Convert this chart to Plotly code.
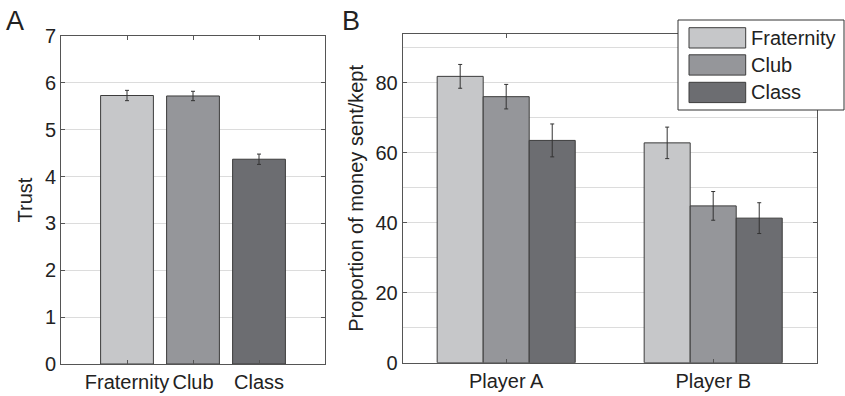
import plotly.graph_objects as go

# ---- data ----
groups = ["Fraternity", "Club", "Class"]
colors = ["#c6c7c9", "#95969a", "#6c6d71"]

trust_mean = [5.73, 5.72, 4.37]
trust_err = [0.11, 0.10, 0.11]

players = ["Player A", "Player B"]
money_mean = {
    "Fraternity": [81.8, 62.8],
    "Club": [76.0, 44.8],
    "Class": [63.5, 41.3],
}
money_err = {
    "Fraternity": [3.4, 4.5],
    "Club": [3.5, 4.1],
    "Class": [4.7, 4.4],
}

trust_ticks = [0, 1, 2, 3, 4, 5, 6, 7]
money_ticks = [0, 20, 40, 60, 80]

W, H = 845, 396
FONT = "Liberation Sans, Arial, sans-serif"
LINE = "#555555"
GRID = "#dcdcdc"
EDGE = "#3c3c3c"
TXT = "#222222"

def px(x):
    return x / W

def py(y):
    return 1 - y / H

fig = go.Figure()

# Panel A
fig.add_trace(go.Bar(
    x=groups, y=trust_mean, width=0.8,
    marker=dict(color=colors, line=dict(color=EDGE, width=1)),
    error_y=dict(type="data", array=trust_err, color="#333333", thickness=1, width=2),
    xaxis="x", yaxis="y", showlegend=False,
))

# Panel B
for g, c in zip(groups, colors):
    fig.add_trace(go.Bar(
        x=players, y=money_mean[g], name=g,
        marker=dict(color=c, line=dict(color=EDGE, width=1)),
        error_y=dict(type="data", array=money_err[g], color="#333333", thickness=1, width=2),
        xaxis="x2", yaxis="y2", showlegend=False,
    ))

axis_common = dict(
    showline=True, linecolor=LINE, linewidth=1, mirror="ticks",
    ticks="inside", ticklen=4, tickcolor=LINE,
    tickfont=dict(family=FONT, size=20, color=TXT),
    zeroline=False, automargin=False,
)

fig.update_layout(
    width=W, height=H,
    margin=dict(l=0, r=0, t=0, b=0, pad=0),
    plot_bgcolor="white", paper_bgcolor="white",
    barmode="group", bargap=0.333, bargroupgap=0,
    font=dict(family=FONT, size=20, color=TXT),
    xaxis=dict(domain=[px(61), px(325)], anchor="y", range=[-1, 3],
               showgrid=False, **axis_common),
    yaxis=dict(domain=[py(364), py(36)], anchor="x", range=[0, 7],
               tickvals=trust_ticks, showgrid=True, gridcolor=GRID, gridwidth=1,
               title=dict(text="Trust", font=dict(family=FONT, size=20, color=TXT), standoff=6),
               **axis_common),
    xaxis2=dict(domain=[px(402.7), px(816.7)], anchor="y2", range=[-0.5, 1.5],
                showgrid=False, **axis_common),
    yaxis2=dict(domain=[py(362.7), py(34)], anchor="x2", range=[0, 93.9],
                tickvals=money_ticks, showgrid=True, gridcolor=GRID, gridwidth=1,
                minor=dict(dtick=10, showgrid=True, gridcolor=GRID, ticks=""),
                title=dict(text="Proportion of money sent/kept",
                           font=dict(family=FONT, size=20, color=TXT), standoff=6),
                **axis_common),
)

# Panel labels
fig.add_annotation(text="A", x=px(4), y=py(4), xref="paper", yref="paper",
                   xanchor="left", yanchor="top", showarrow=False,
                   font=dict(family=FONT, size=27, color=TXT))
fig.add_annotation(text="B", x=px(340), y=py(4), xref="paper", yref="paper",
                   xanchor="left", yanchor="top", showarrow=False,
                   font=dict(family=FONT, size=27, color=TXT))

# Legend (drawn manually to match large swatches)
fig.add_shape(type="rect", xref="paper", yref="paper",
              x0=px(678), x1=px(844), y0=py(110), y1=py(20),
              fillcolor="white", line=dict(color="#333333", width=1), layer="above")
row_tops = [27.7, 54.8, 82.3]
row_h = 20.3
for g, c, top in zip(groups, colors, row_tops):
    fig.add_shape(type="rect", xref="paper", yref="paper",
                  x0=px(689), x1=px(745.7), y0=py(top + row_h), y1=py(top),
                  fillcolor=c, line=dict(color=EDGE, width=1), layer="above")
    fig.add_annotation(text=g, x=px(749), y=py(top + row_h / 2),
                       xref="paper", yref="paper", xanchor="left", yanchor="middle",
                       showarrow=False, font=dict(family=FONT, size=20, color=TXT))

fig.write_html("out.html", config={"displayModeBar": False},
               post_script="document.body.style.margin='0';")
